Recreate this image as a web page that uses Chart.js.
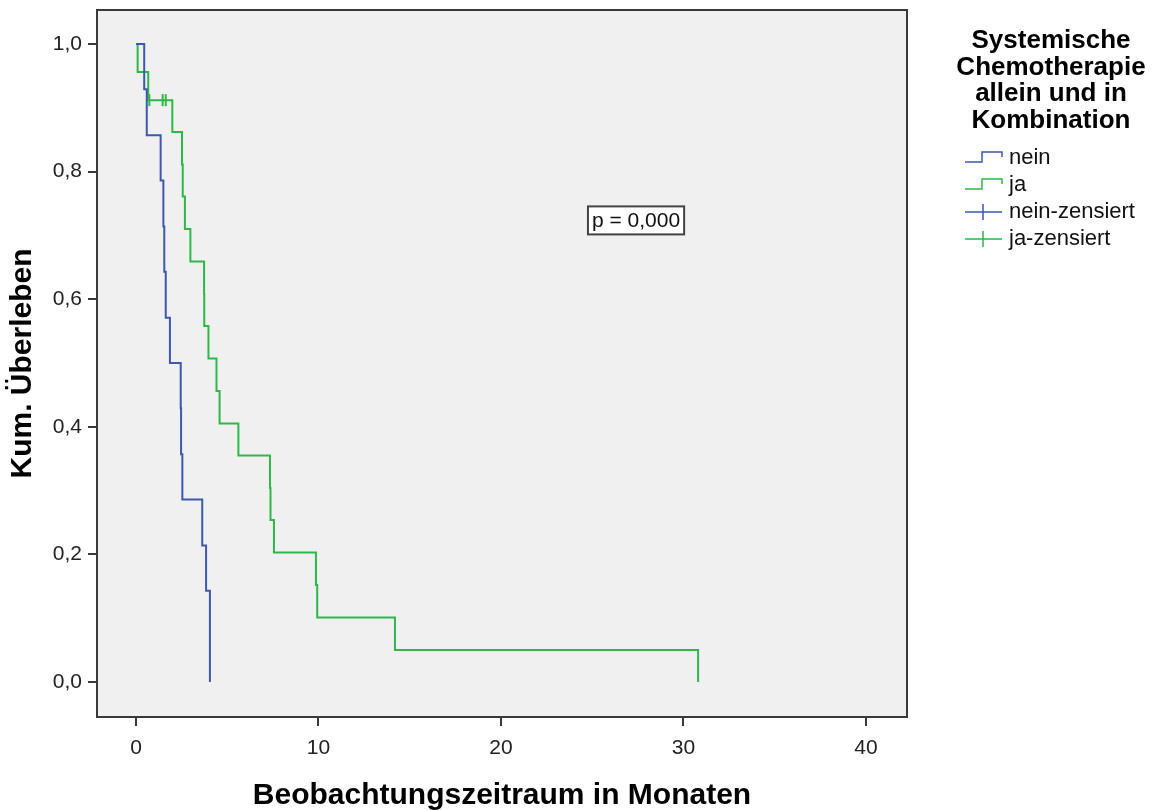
<!DOCTYPE html>
<html>
<head>
<meta charset="utf-8">
<script src="https://cdn.jsdelivr.net/npm/chart.js@4"></script>
<style>
  html, body { margin: 0; padding: 0; background: #fff; }
  #wrap { width: 1157px; height: 810px; }
</style>
</head>
<body>
<div id="wrap"><canvas id="km"></canvas></div>
<script>
// Kaplan-Meier Daten
var neinZeit = [0, 0.45, 0.59, 1.35, 1.5, 1.55, 1.63, 1.86, 2.45, 2.47, 2.54, 3.63, 3.84, 4.05];
var neinUeberleben = [1, 0.929, 0.857, 0.786, 0.714, 0.643, 0.571, 0.5, 0.429, 0.357, 0.286, 0.214, 0.143, 0];

var jaZeit = [0, 0.09, 0.67, 1.99, 2.52, 2.56, 2.68, 2.98, 3.73, 3.74, 3.97, 4.41, 4.58, 5.61, 7.34, 7.37, 7.56, 9.86, 9.93, 14.19, 30.8];
var jaUeberleben = [1, 0.956, 0.912, 0.862, 0.811, 0.761, 0.71, 0.659, 0.608, 0.558, 0.507, 0.456, 0.405, 0.355, 0.304, 0.254, 0.203, 0.152, 0.101, 0.05, 0];

// zensierte Fälle
var neinZensZeit = [];
var neinZensUeberleben = [];
var jaZensZeit = [0.73, 1.46, 1.63];
var jaZensUeberleben = [0.912, 0.912, 0.912];

var xTicks = [0, 10, 20, 30, 40];
var yTicks = [0, 0.2, 0.4, 0.6, 0.8, 1.0];

var legendTitel = ['Systemische', 'Chemotherapie', 'allein und in', 'Kombination'];
var pWert = 'p = 0,000';

var BLAU = '#3E58AC';
var GRUEN = '#2EB848';
var FONT = '"Liberation Sans", Arial, sans-serif';

function punkte(xs, ys) {
    return xs.map(function (x, i) { return { x: x, y: ys[i] }; });
}

// Hintergrund + Rahmen des Plotbereichs
var rahmen = {
    id: 'rahmen',
    beforeDatasetsDraw: function (chart) {
        var a = chart.chartArea, ctx = chart.ctx;
        ctx.save();
        ctx.fillStyle = '#f0f0f0';
        ctx.fillRect(a.left, a.top, a.right - a.left, a.bottom - a.top);
        ctx.restore();
    },
    afterDatasetsDraw: function (chart) {
        var a = chart.chartArea, ctx = chart.ctx;
        ctx.save();
        ctx.strokeStyle = '#3a3a3a';
        ctx.lineWidth = 2;
        ctx.strokeRect(a.left, a.top, a.right - a.left, a.bottom - a.top);
        ctx.restore();
    }
};

// Legende rechts und p-Wert Box
var legende = {
    id: 'legende',
    afterDraw: function (chart) {
        var ctx = chart.ctx;
        ctx.save();
        ctx.fillStyle = '#000';
        ctx.font = 'bold 26px ' + FONT;
        ctx.textAlign = 'center';
        ctx.textBaseline = 'alphabetic';
        legendTitel.forEach(function (t, i) {
            ctx.fillText(t, 1051, 48 + i * 26.5);
        });

        ctx.font = '22px ' + FONT;
        ctx.textAlign = 'left';
        ctx.textBaseline = 'middle';
        chart.data.datasets.forEach(function (ds, i) {
            var y = 158 + i * 27;
            ctx.strokeStyle = ds.borderColor;
            ctx.lineWidth = 1.5;
            ctx.beginPath();
            if (ds.zensiert) {
                ctx.moveTo(965, y);
                ctx.lineTo(1002, y);
                ctx.moveTo(983, y - 8);
                ctx.lineTo(983, y + 8);
            } else {
                ctx.moveTo(965, y + 4);
                ctx.lineTo(982, y + 4);
                ctx.lineTo(982, y - 6);
                ctx.lineTo(1002, y - 6);
                ctx.lineTo(1002, y - 1);
            }
            ctx.stroke();
            ctx.fillStyle = '#111';
            ctx.fillText(ds.label, 1009, y);
        });

        // p-Wert
        var xs = chart.scales.x, ys = chart.scales.y;
        var cx = xs.getPixelForValue(27.4), cy = ys.getPixelForValue(0.7235);
        ctx.font = '21px ' + FONT;
        var w = ctx.measureText(pWert).width + 8;
        ctx.fillStyle = '#fff';
        ctx.fillRect(cx - w / 2, cy - 14, w, 28);
        ctx.strokeStyle = '#444';
        ctx.lineWidth = 2;
        ctx.strokeRect(cx - w / 2, cy - 14, w, 28);
        ctx.fillStyle = '#111';
        ctx.textAlign = 'center';
        ctx.fillText(pWert, cx, cy + 1);
        ctx.restore();
    }
};

var ctx = document.getElementById('km').getContext('2d');
var grafik = new Chart(ctx, {
    type: 'line',
    data: {
        datasets: [{
            label: 'nein',
            data: punkte(neinZeit, neinUeberleben),
            borderColor: BLAU,
            borderWidth: 2,
            stepped: 'before',
            pointRadius: 0,
            fill: false
        }, {
            label: 'ja',
            data: punkte(jaZeit, jaUeberleben),
            borderColor: GRUEN,
            borderWidth: 2,
            stepped: 'before',
            pointRadius: 0,
            fill: false
        }, {
            label: 'nein-zensiert',
            zensiert: true,
            data: punkte(neinZensZeit, neinZensUeberleben),
            borderColor: BLAU,
            showLine: false,
            pointStyle: 'line',
            rotation: 90,
            pointRadius: 6,
            pointBorderWidth: 2
        }, {
            label: 'ja-zensiert',
            zensiert: true,
            data: punkte(jaZensZeit, jaZensUeberleben),
            borderColor: GRUEN,
            showLine: false,
            pointStyle: 'line',
            rotation: 90,
            pointRadius: 6,
            pointBorderWidth: 2
        }]
    },
    options: {
        responsive: true,
        maintainAspectRatio: false,
        animation: false,
        layout: { padding: { top: 10, right: 250, left: 0, bottom: 0 } },
        scales: {
            x: {
                type: 'linear',
                min: -2.137,
                max: 42.247,
                afterBuildTicks: function (s) { s.ticks = xTicks.map(function (v) { return { value: v }; }); },
                afterFit: function (s) { s.height = 93; s.paddingLeft = 0; s.paddingRight = 0; },
                grid: { drawOnChartArea: false, drawTicks: true, tickLength: 9, color: '#3a3a3a', lineWidth: 2 },
                border: { display: false },
                ticks: {
                    color: '#222',
                    padding: 10,
                    maxRotation: 0,
                    font: { family: '"Liberation Sans Narrow", "Liberation Sans", Arial, sans-serif', size: 21 }
                },
                title: {
                    display: true,
                    text: 'Beobachtungszeitraum in Monaten',
                    color: '#000',
                    padding: { top: 0, bottom: -4 },
                    font: { family: FONT, size: 30, weight: 'bold' }
                }
            },
            y: {
                type: 'linear',
                min: -0.0549,
                max: 1.0533,
                afterBuildTicks: function (s) { s.ticks = yTicks.map(function (v) { return { value: v }; }); },
                afterFit: function (s) { s.width = 97; s.paddingTop = 0; s.paddingBottom = 0; },
                grid: { drawOnChartArea: false, drawTicks: true, tickLength: 9, color: '#3a3a3a', lineWidth: 2 },
                border: { display: false },
                ticks: {
                    color: '#222',
                    padding: 6,
                    font: { family: FONT, size: 21 },
                    callback: function (v) { return v.toFixed(1).replace('.', ','); }
                },
                title: {
                    display: true,
                    text: 'Kum. Überleben',
                    color: '#000',
                    padding: { top: 5, bottom: 0 },
                    font: { family: FONT, size: 30, weight: 'bold' }
                }
            }
        },
        plugins: {
            legend: { display: false },
            tooltip: { enabled: false }
        }
    },
    plugins: [rahmen, legende]
});
</script>
</body>
</html>
